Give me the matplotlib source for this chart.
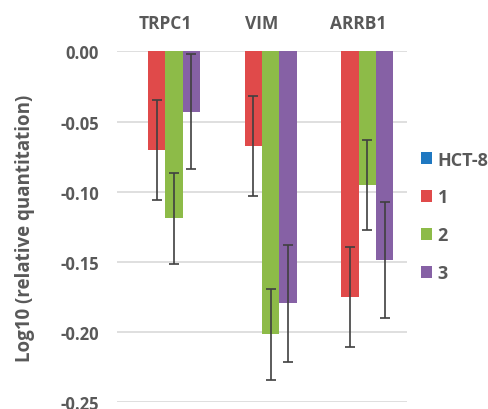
import matplotlib
matplotlib.use("Agg")
import matplotlib.pyplot as plt
import numpy as np

genes = ["TRPC1", "VIM", "ARRB1"]
series = ["HCT-8", "1", "2", "3"]
values = {
    "HCT-8": [0.0, 0.0, 0.0],
    "1": [-0.070, -0.0675, -0.175],
    "2": [-0.119, -0.2015, -0.095],
    "3": [-0.043, -0.1795, -0.1485],
}
errors = {
    "HCT-8": [0.0, 0.0, 0.0],
    "1": [0.0355, 0.0355, 0.0355],
    "2": [0.0325, 0.0325, 0.032],
    "3": [0.041, 0.0415, 0.0415],
}
colors = ["#1f78c1", "#e04a4a", "#8dbb48", "#8661a5"]
yticks = [0.0, -0.05, -0.10, -0.15, -0.20, -0.25]

plt.rcParams["font.family"] = ["Open Sans", "DejaVu Sans"]
plt.rcParams["font.weight"] = "bold"
text_color = "#595959"

fig = plt.figure(figsize=(4.89, 4.10), dpi=100)
ax = fig.add_axes([0.2393, 0.0163, 0.593, 0.8557])

x = np.arange(len(genes))
w = 0.179
handles = []
for i, (s, c) in enumerate(zip(series, colors)):
    pos = x + (i - 1.5) * w
    b = ax.bar(pos, values[s], width=w, color=c, edgecolor="none", zorder=2, label=s)
    handles.append(b)
    if s != "HCT-8":
        ax.errorbar(pos, values[s], yerr=errors[s], fmt="none", ecolor="#404040",
                    elinewidth=1.2, capsize=3.6, capthick=1.2, zorder=3)

ax.set_xlim(-0.5, len(genes) - 0.5)
ax.set_ylim(-0.25, 0.0)
ax.set_yticks(yticks)
ax.set_yticklabels([f"{t:.2f}" for t in yticks])
ax.yaxis.grid(True, color="#d9d9d9", linewidth=1.2, zorder=0)
ax.set_axisbelow(True)
for sp in ax.spines.values():
    sp.set_visible(False)

ax.xaxis.tick_top()
ax.set_xticks(x)
ax.set_xticklabels(genes)
ax.tick_params(axis="x", length=0, pad=14, labelsize=12.5, colors=text_color)
ax.tick_params(axis="y", length=0, pad=13, labelsize=12, colors=text_color)

ax.set_ylabel("Log10 (relative quantitation)", fontsize=13.5, color=text_color,
              fontweight="bold", labelpad=18)

leg = ax.legend(handles=handles, labels=series, loc="center left",
                bbox_to_anchor=(1.025, 0.53), frameon=False, fontsize=13,
                handlelength=0.6, handleheight=0.6, handletextpad=0.3,
                labelspacing=1.1, borderaxespad=0)
for t in leg.get_texts():
    t.set_color(text_color)

fig.savefig("out.png", dpi=100)
